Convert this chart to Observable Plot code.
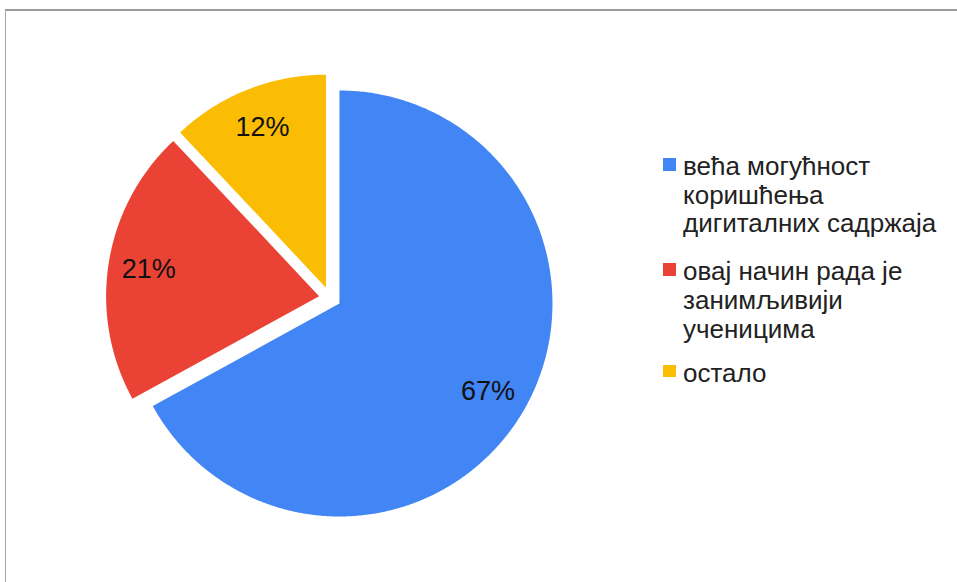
<!DOCTYPE html>
<html>
<head>
<meta charset="utf-8">
<script src="https://cdn.jsdelivr.net/npm/d3@7"></script>
<script src="https://cdn.jsdelivr.net/npm/@observablehq/plot@0.6"></script>
<style>
  html, body { margin: 0; padding: 0; background: #fff; }
  #wrap { position: relative; width: 957px; height: 582px; overflow: hidden; font-family: "Liberation Sans", Arial, sans-serif; }
  #frame { position: absolute; left: 5px; top: 9px; right: -2px; bottom: -2px; border-top: 2px solid #9a9a9a; border-left: 1px solid #a8a8a8; }
  #chart { position: absolute; left: 0; top: 0; }
  #legend { position: absolute; left: 663px; top: 152px; color: #222; font-size: 26px; line-height: 28.7px; white-space: nowrap; }
  .item { position: relative; padding-left: 20px; }
  .sw { position: absolute; left: 0; top: 6px; width: 12.5px; height: 12.5px; }
</style>
</head>
<body>
<div id="wrap"><div id="frame"></div><div id="chart"></div><div id="legend"></div></div>
<script>
const categories = ["већа могућност коришћења дигиталних садржаја", "овај начин рада је занимљивији ученицима", "остало"];
const legendLines = [["већа могућност", "коришћења", "дигиталних садржаја"], ["овај начин рада је", "занимљивији", "ученицима"], ["остало"]];
const values = [67, 21, 12];
const labels = ["67%", "21%", "12%"];
const colors = ["#4285F4", "#EA4335", "#FBBC04"];

const W = 957, H = 582;
const R = 213;                // pixel radius
const cx = 329.5, cy = 297.4; // pixel centre
const explode = 11 / R;
const labelR = 0.81;

const total = d3.sum(values);
let acc = 0;
const slices = values.map((v, i) => {
  const a0 = acc / total * 2 * Math.PI;
  acc += v;
  const a1 = acc / total * 2 * Math.PI;
  const mid = (a0 + a1) / 2;
  return {cat: categories[i], label: labels[i], a0, a1, ox: explode * Math.sin(mid), oy: explode * Math.cos(mid), mid};
});

const pts = [];
for (const s of slices) {
  pts.push({cat: s.cat, x: s.ox, y: s.oy});
  const n = Math.max(2, Math.ceil((s.a1 - s.a0) / (Math.PI / 360)));
  for (let k = 0; k <= n; k++) {
    const a = s.a0 + (s.a1 - s.a0) * k / n;
    pts.push({cat: s.cat, x: s.ox + Math.sin(a), y: s.oy + Math.cos(a)});
  }
}
const labelPts = slices.map(s => ({label: s.label, x: s.ox + labelR * Math.sin(s.mid), y: s.oy + labelR * Math.cos(s.mid)}));

const chart = Plot.plot({
  width: W, height: H,
  margin: 0,
  x: {domain: [-cx / R, (W - cx) / R], axis: null},
  y: {domain: [-(H - cy) / R, cy / R], axis: null},
  color: {domain: categories, range: colors},
  style: {background: "transparent", fontFamily: "Liberation Sans, Arial, sans-serif"},
  marks: [
    Plot.line(pts, {x: "x", y: "y", z: "cat", fill: "cat", stroke: null, curve: "linear-closed"}),
    Plot.text(labelPts, {x: "x", y: "y", text: "label", fontSize: 27, fill: "#111"})
  ]
});
document.getElementById("chart").appendChild(chart);

const gaps = [19, 15.5, 0];
const lg = document.getElementById("legend");
legendLines.forEach((lines, i) => {
  const it = document.createElement("div");
  it.className = "item";
  it.style.marginBottom = gaps[i] + "px";
  const sw = document.createElement("span");
  sw.className = "sw";
  sw.style.background = colors[i];
  it.appendChild(sw);
  lines.forEach(t => { const d = document.createElement("div"); d.textContent = t; it.appendChild(d); });
  lg.appendChild(it);
});
</script>
</body>
</html>
